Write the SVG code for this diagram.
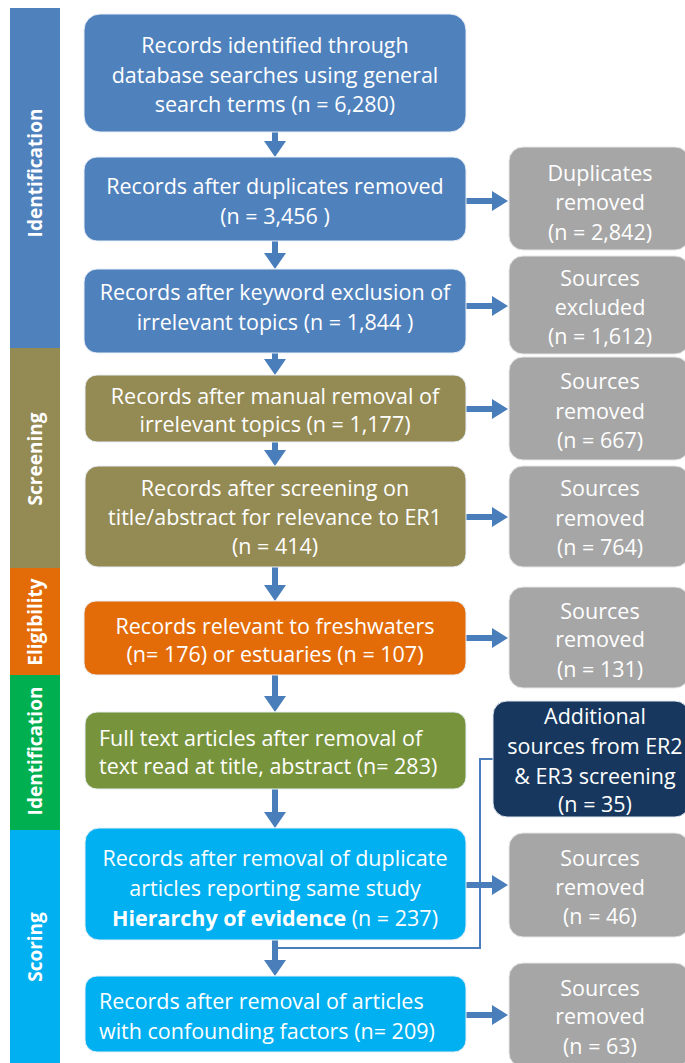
<svg xmlns="http://www.w3.org/2000/svg" width="685" height="1063" viewBox="0 0 685 1063">
<style>
.t{font-family:"Open Sans","Noto Sans",sans-serif;font-size:21.5px;fill:#ffffff;text-anchor:middle;dominant-baseline:central}
.l{text-anchor:start}
.s{font-family:"Open Sans","Noto Sans",sans-serif;font-size:19px;font-weight:bold;fill:#ffffff;text-anchor:middle;dominant-baseline:central}
.bx{stroke:#e8eef6;stroke-width:1}
.gr{fill:#a6a6a6;stroke:#e6e6e6;stroke-width:1}
.ar{fill:#4a7ebb}
</style>
<defs>
<path id="ha" d="M0,-3 H26 V-10 L42,0 L26,10 V3 H0 Z"/>
</defs>
<rect width="685" height="1063" fill="#ffffff"/>
<g id="sidebar">
<rect x="10" y="8" width="50" height="340" fill="#4f81bd"/>
<rect x="10" y="348" width="50" height="220" fill="#948a54"/>
<rect x="10" y="568" width="50" height="107" fill="#e36c09"/>
<rect x="10" y="675" width="50" height="155" fill="#00b050"/>
<rect x="10" y="830" width="50" height="233" fill="#00b0f0"/>
<text class="s" transform="translate(35,173) rotate(-90)">Identification</text>
<text class="s" transform="translate(35,459) rotate(-90)">Screening</text>
<text class="s" transform="translate(35,622) rotate(-90)">Eligibility</text>
<text class="s" transform="translate(35,751) rotate(-90)">Identification</text>
<text class="s" transform="translate(35,947) rotate(-90)">Scoring</text>
</g>
<g id="connectors">
<g class="ar">
<path d="M272,132 H278 V141 H286 L275,157 L264,141 H272 Z"/>
<path d="M272,241 H278 V253 H286 L275,269 L264,253 H272 Z"/>
<path d="M272,353 H278 V359 H286 L275,375 L264,359 H272 Z"/>
<path d="M272,442 H278 V450 H286 L275,466 L264,450 H272 Z"/>
<path d="M272,567 H278 V585 H286 L275,601 L264,585 H272 Z"/>
<path d="M272,675 H278 V696 H286 L275,712 L264,696 H272 Z"/>
<path d="M272,789 H278 V812 H286 L275,828 L264,812 H272 Z"/>
<path d="M272,940 H278 V960 H286 L275,976 L264,960 H272 Z"/>
<use href="#ha" x="466" y="201"/>
<use href="#ha" x="466" y="306"/>
<use href="#ha" x="466" y="409"/>
<use href="#ha" x="466" y="517"/>
<use href="#ha" x="466" y="638"/>
<use href="#ha" x="466" y="885"/>
<use href="#ha" x="466" y="1015"/>
</g>
<path d="M493,759 H480 V948 H278" fill="none" stroke="#4a7ebb" stroke-width="2"/>
</g>
<g id="n1"><rect class="bx" x="84" y="14" width="382" height="118" rx="16" fill="#4f81bd"/>
<text class="t" x="275" y="44">Records identified through</text>
<text class="t" x="275" y="74">database searches using general</text>
<text class="t" x="275" y="103">search terms (n = 6,280)</text></g>
<g id="n2"><rect class="bx" x="84" y="157" width="382" height="84" rx="13" fill="#4f81bd"/>
<text class="t" x="275" y="185">Records after duplicates removed</text>
<text class="t" x="275" y="215">(n = 3,456 )</text></g>
<g id="n3"><rect class="bx" x="84" y="269" width="382" height="84" rx="13" fill="#4f81bd"/>
<text class="t" x="275" y="291">Records after keyword exclusion of</text>
<text class="t" x="275" y="321">irrelevant topics (n = 1,844 )</text></g>
<g id="n4"><rect class="bx" x="85" y="375" width="381" height="67" rx="12" fill="#948a54"/>
<text class="t" x="275" y="395">Records after manual removal of</text>
<text class="t" x="275" y="423">irrelevant topics (n = 1,177)</text></g>
<g id="n5"><rect class="bx" x="85" y="466" width="381" height="101" rx="13" fill="#948a54"/>
<text class="t" x="275" y="487">Records after screening on</text>
<text class="t" x="275" y="516">title/abstract for relevance to ER1</text>
<text class="t" x="275" y="545">(n = 414)</text></g>
<g id="n6"><rect class="bx" x="84" y="601" width="382" height="74" rx="12" fill="#e36c09"/>
<text class="t" x="275" y="625">Records relevant to freshwaters</text>
<text class="t" x="275" y="653">(n= 176) or estuaries (n = 107)</text></g>
<g id="n7"><rect class="bx" x="85" y="712" width="381" height="77" rx="12" fill="#77933c"/>
<text class="t l" x="99" y="737">Full text articles after removal of</text>
<text class="t l" x="99" y="765">text read at title, abstract (n= 283)</text></g>
<g id="n8"><rect class="bx" x="85" y="828" width="381" height="112" rx="14" fill="#00b0f0"/>
<text class="t" x="275" y="857">Records after removal of duplicate</text>
<text class="t" x="275" y="887">articles reporting same study</text>
<text class="t" x="275" y="917"><tspan font-weight="bold">Hierarchy of evidence</tspan> (n = 237)</text></g>
<g id="n9"><rect class="bx" x="85" y="976" width="381" height="76" rx="12" fill="#00b0f0"/>
<text class="t l" x="99" y="1000">Records after removal of articles</text>
<text class="t l" x="99" y="1030">with confounding factors (n= 209)</text></g>
<g id="g1"><rect class="gr" x="509" y="147" width="180" height="103" rx="14"/>
<text class="t" x="600" y="172">Duplicates</text>
<text class="t" x="600" y="201">removed</text>
<text class="t" x="600" y="231">(n = 2,842)</text></g>
<g id="g2"><rect class="gr" x="509" y="256" width="180" height="98" rx="14"/>
<text class="t" x="600" y="277">Sources</text>
<text class="t" x="600" y="306">excluded</text>
<text class="t" x="600" y="335">(n = 1,612)</text></g>
<g id="g3"><rect class="gr" x="509" y="357" width="180" height="103" rx="14"/>
<text class="t" x="600" y="380">Sources</text>
<text class="t" x="600" y="410">removed</text>
<text class="t" x="600" y="439">(n = 667)</text></g>
<g id="g4"><rect class="gr" x="509" y="466" width="180" height="101" rx="14"/>
<text class="t" x="600" y="487">Sources</text>
<text class="t" x="600" y="517">removed</text>
<text class="t" x="600" y="546">(n = 764)</text></g>
<g id="g5"><rect class="gr" x="509" y="587" width="180" height="101" rx="14"/>
<text class="t" x="600" y="610">Sources</text>
<text class="t" x="600" y="638">removed</text>
<text class="t" x="600" y="668">(n = 131)</text></g>
<g id="nav"><rect x="493" y="701" width="196" height="116" rx="14" fill="#17375e" stroke="#e0e6ee" stroke-width="1"/>
<text class="t" x="595" y="715">Additional</text>
<text class="t" x="595" y="745">sources from ER2</text>
<text class="t" x="595" y="775">&amp; ER3 screening</text>
<text class="t" x="595" y="803">(n = 35)</text></g>
<g id="g6"><rect class="gr" x="509" y="833" width="180" height="104" rx="14"/>
<text class="t" x="600" y="857">Sources</text>
<text class="t" x="600" y="886">removed</text>
<text class="t" x="600" y="915">(n = 46)</text></g>
<g id="g7"><rect class="gr" x="509" y="963" width="180" height="104" rx="14"/>
<text class="t" x="600" y="987">Sources</text>
<text class="t" x="600" y="1015">removed</text>
<text class="t" x="600" y="1045">(n = 63)</text></g>
</svg>
